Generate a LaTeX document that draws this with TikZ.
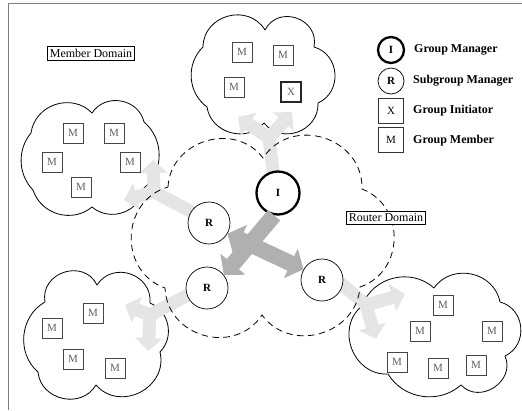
\documentclass[tikz,border=0pt]{standalone}
\usepackage{fontspec}
\setmainfont{Liberation Serif}
\usetikzlibrary{calc,arrows.meta}

\definecolor{framegray}{RGB}{128,128,128}
\definecolor{forkgray}{RGB}{229,229,229}
\definecolor{coregray}{RGB}{176,176,176}
\definecolor{boxgray}{RGB}{70,70,70}
\definecolor{mtext}{RGB}{95,95,95}

% one cloud bump from #1 to #2 (clockwise), control distance factor #3, end angle #4
\newcommand\cpuff[4]{.. controls ($(#1)!#3!#4:(#2)$) and ($(#2)!#3!-#4:(#1)$) .. (#2)}

\begin{document}
\begin{tikzpicture}[x=1pt,y=-1pt,
  cloudline/.style={line width=0.8pt, line join=round},
  member/.style={draw=boxgray, line width=0.7pt, minimum size=20pt, inner sep=0pt,
    text=mtext, font=\fontsize{11}{11}\selectfont},
  initiator/.style={member, draw=black!85, line width=1.6pt},
  sub/.style={circle, draw, fill=white, line width=0.7pt, minimum size=42pt, inner sep=0pt,
    font=\bfseries\fontsize{11}{11}\selectfont},
  mgr/.style={sub, line width=2.3pt, minimum size=43pt},
  keysub/.style={sub, minimum size=26pt},
  keymgr/.style={mgr, minimum size=26pt},
  keybox/.style={member, minimum size=25pt, text=black, draw=black!80},
  domainlabel/.style={draw, line width=0.7pt, fill=white, inner sep=2.5pt,
    font=\fontsize{12}{12}\selectfont},
  legend/.style={anchor=west, inner sep=0pt, font=\bfseries\fontsize{12}{12}\selectfont},
  fork/.style={draw=forkgray, line width=13pt},
  forkstem/.style={fork, line cap=rect},
  forkhead/.style={fork, -{Triangle[width=27pt,length=13pt]}},
  core/.style={draw=coregray, line width=16pt},
  corehead/.style={core, -{Triangle[width=32pt,length=14pt]}},
  corebi/.style={core, {Triangle[width=32pt,length=14pt]}-{Triangle[width=32pt,length=14pt]}},
  routercloud/.style={line width=0.8pt, dash pattern=on 6.5pt off 4.5pt},
]
\useasboundingbox (0,0) rectangle (522,410);

% frame
\draw[framegray, line width=1.3pt] (8.5,410) -- (8.5,3.5) -- (522,3.5);

% member domain clouds
\draw[cloudline] (203,47) \cpuff{203,47}{265,30}{0.5}{74} \cpuff{265,30}{314,47}{0.56}{82}
  \cpuff{314,47}{318,103}{0.48}{70} \cpuff{318,103}{264,123}{0.49}{72}
  \cpuff{264,123}{207,107}{0.45}{66} \cpuff{207,107}{203,47}{0.4}{50};
\draw[cloudline] (31,133) \cpuff{31,133}{92,113}{0.45}{64} \cpuff{92,113}{144,122}{0.46}{67}
  \cpuff{144,122}{144,188}{0.4}{50} \cpuff{144,188}{92,207}{0.44}{60}
  \cpuff{92,207}{33,190}{0.42}{56} \cpuff{33,190}{31,133}{0.38}{42};
\draw[cloudline] (45,302) \cpuff{45,302}{97,285}{0.55}{82} \cpuff{97,285}{150,303}{0.52}{76}
  \cpuff{150,303}{160,352}{0.42}{56} \cpuff{160,352}{96,385}{0.51}{76}
  \cpuff{96,385}{38,372}{0.48}{72} \cpuff{38,372}{45,302}{0.41}{55};
\draw[cloudline] (362,306) \cpuff{362,306}{434,288}{0.42}{56} \cpuff{434,288}{500,302}{0.46}{67}
  \cpuff{500,302}{505,356}{0.48}{70} \cpuff{505,356}{461,385}{0.52}{80}
  \cpuff{461,385}{388,374}{0.4}{50} \cpuff{388,374}{362,306}{0.48}{72};

% light arrows between the router domain and the member domains
\coordinate (ft0) at (273,170); \coordinate (ft1) at (269,138);
\coordinate (ftL) at (238,117); \coordinate (ftR) at (292,112);
\draw[forkstem] (ft0) -- (ft1);
\draw[forkhead] (ft1) -- (ftL);
\draw[forkhead] (ft1) -- (ftR);

\coordinate (fl0) at (192,212); \coordinate (fl1) at (154,192);
\coordinate (flU) at (153,160); \coordinate (flL) at (124,200);
\draw[forkstem] (fl0) -- (fl1);
\draw[forkhead] (fl1) -- (flU);
\draw[forkhead] (fl1) -- (flL);

\coordinate (fb0) at (186,296); \coordinate (fb1) at (150,315);
\coordinate (fbL) at (125,305); \coordinate (fbD) at (148,351);
\draw[forkstem] (fb0) -- (fb1);
\draw[forkhead] (fb1) -- (fbL);
\draw[forkhead] (fb1) -- (fbD);

\coordinate (fr0) at (344,286); \coordinate (fr1) at (366,305);
\coordinate (frR) at (405,294); \coordinate (frD) at (376,339);
\draw[forkstem] (fr0) -- (fr1);
\draw[forkhead] (fr1) -- (frR);
\draw[forkhead] (fr1) -- (frD);

% router domain
\draw[routercloud] (168,187) \cpuff{168,187}{263,158}{0.47}{70} \cpuff{263,158}{362,189}{0.5}{74}
  \cpuff{362,189}{360,287}{0.48}{70} \cpuff{360,287}{262,315}{0.47}{70}
  \cpuff{262,315}{165,288}{0.49}{72} \cpuff{165,288}{168,187}{0.49}{72};

% managers
\node[mgr] (I) at (278,193) {I};
\node[sub] (R1) at (209,223) {R};
\node[sub] (R2) at (207,288) {R};
\node[sub] (R3) at (322,280) {R};

\draw[corehead] (I.-100) -- (R2.38);
\draw[corebi] (R1.-30) -- (R3.150);

% members
\node[member] (m1) at (242,52) {M};
\node[member] (m2) at (283,55) {M};
\node[member] (m3) at (234,87) {M};
\node[initiator] (x1) at (291,92) {X};

\node[member] (m4) at (73,133) {M};
\node[member] (m5) at (114,133) {M};
\node[member] (m6) at (52,162) {M};
\node[member] (m7) at (130,162) {M};
\node[member] (m8) at (81,187) {M};

\node[member] (m9) at (93,313) {M};
\node[member] (m10) at (52,328) {M};
\node[member] (m11) at (73,359) {M};
\node[member] (m12) at (115,368) {M};

\node[member] (m13) at (443,305) {M};
\node[member] (m14) at (420,331) {M};
\node[member] (m15) at (492,331) {M};
\node[member] (m16) at (397,362) {M};
\node[member] (m17) at (438,368) {M};
\node[member] (m18) at (476,365) {M};

% domain labels
\node[domainlabel] (md) at (91,53.5) {Member Domain};
\node[domainlabel] (rd) at (386,218) {Router Domain};

% key
\node[keymgr] (kI) at (391,50) {I};
\node[keysub] (kR) at (391,81) {R};
\node[keybox] (kX) at (391,110.5) {X};
\node[keybox] (kM) at (391,140) {M};
\node[legend] (tI) at (414,50) {Group Manager};
\node[legend] (tR) at (413,81) {Subgroup Manager};
\node[legend] (tX) at (413,111) {Group Initiator};
\node[legend] (tM) at (413,141) {Group Member};
\end{tikzpicture}
\end{document}
